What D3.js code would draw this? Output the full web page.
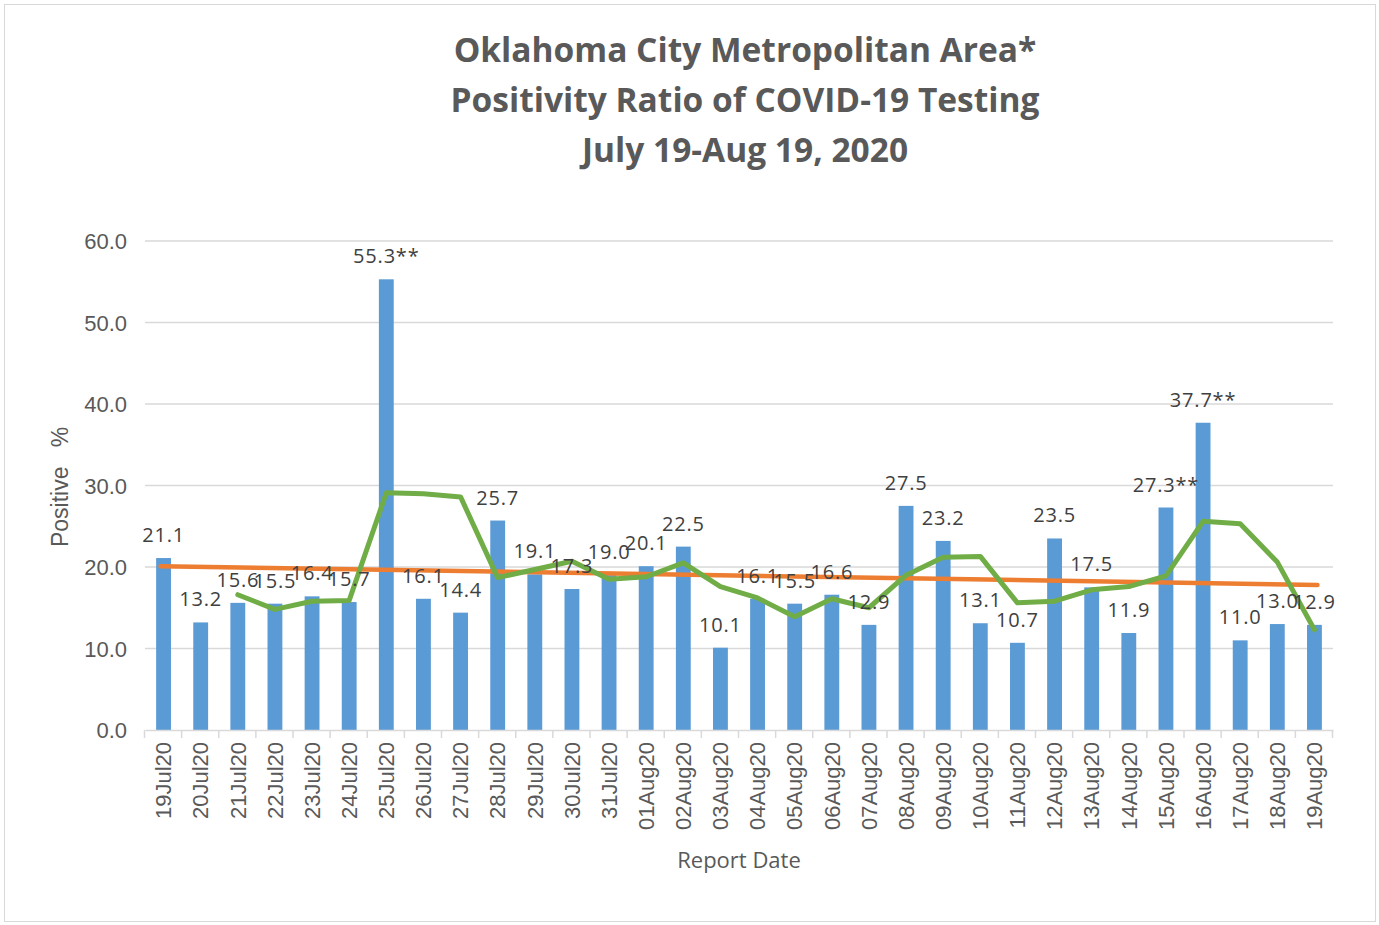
<!DOCTYPE html>
<html>
<head>
<meta charset="utf-8">
<script src="https://cdn.jsdelivr.net/npm/d3@7"></script>
<style>
  body { margin: 0; background: #fff; }
</style>
</head>
<body>
<div id="chart"></div>
<script>
const dates = ['19Jul20', '20Jul20', '21Jul20', '22Jul20', '23Jul20', '24Jul20', '25Jul20', '26Jul20',
	'27Jul20', '28Jul20', '29Jul20', '30Jul20', '31Jul20', '01Aug20', '02Aug20', '03Aug20', '04Aug20',
	'05Aug20', '06Aug20', '07Aug20', '08Aug20', '09Aug20', '10Aug20', '11Aug20', '12Aug20', '13Aug20',
	'14Aug20', '15Aug20', '16Aug20', '17Aug20', '18Aug20', '19Aug20'];

const positive = [21.1, 13.2, 15.6, 15.5, 16.4, 15.7, 55.3, 16.1, 14.4, 25.7, 19.1, 17.3, 19.0, 20.1, 22.5, 10.1,
	16.1, 15.5, 16.6, 12.9, 27.5, 23.2, 13.1, 10.7, 23.5, 17.5, 11.9, 27.3, 37.7, 11.0, 13.0, 12.9];

const labelNotes = ['', '', '', '', '', '', '**', '', '', '', '', '', '', '', '', '', '', '', '', '', '', '', '',
	'', '', '', '', '**', '**', '', '', ''];

// green moving-average line, starts at 21Jul20
const avgLine = [null, null, 16.6, 14.8, 15.8, 15.9, 29.1, 29.0, 28.6, 18.7, 19.7, 20.7, 18.5, 18.8, 20.5, 17.6,
	16.2, 13.9, 16.1, 15.0, 19.0, 21.2, 21.3, 15.6, 15.8, 17.2, 17.6, 18.9, 25.6, 25.3, 20.6, 12.3];

// orange linear trend, end values
const trendEnds = [20.1, 17.8];

const yTicks = [0, 10, 20, 30, 40, 50, 60];

const titleLines = ['Oklahoma City Metropolitan Area*', 'Positivity Ratio of COVID-19 Testing', 'July 19-Aug 19, 2020'];

const W = 1379, H = 925;
const grey = '#595959';

const svg = d3.select('#chart').append('svg').attr('width', W).attr('height', H);

svg.append('rect').attr('x', 4.5).attr('y', 4.5).attr('width', 1371).attr('height', 917)
	.attr('fill', '#fff').attr('stroke', '#d9d9d9');

const x = d3.scaleBand().domain(dates).range([145, 1333]).paddingInner(0.6).paddingOuter(0.3);
const y = d3.scaleLinear().domain([0, 60]).range([730, 241]);
const cx = (d) => x(d) + x.bandwidth() / 2;

// title
svg.append('g').selectAll('text').data(titleLines).enter().append('text')
	.attr('x', 745).attr('y', (d, i) => 62 + i * 50)
	.attr('text-anchor', 'middle')
	.style('font-family', 'Open Sans, sans-serif').style('font-weight', 'bold').style('font-size', '33.5px')
	.attr('fill', grey).text((d) => d);

// gridlines
svg.append('g').selectAll('line').data(yTicks.slice(1)).enter().append('line')
	.attr('x1', 145).attr('x2', 1333).attr('y1', (d) => y(d)).attr('y2', (d) => y(d))
	.attr('stroke', '#d9d9d9').attr('stroke-width', 1.5);

// y axis labels
svg.append('g').selectAll('text').data(yTicks).enter().append('text')
	.attr('x', 127).attr('y', (d) => y(d) + 8)
	.attr('text-anchor', 'end')
	.style('font-family', 'Liberation Sans, Arial, sans-serif').style('font-size', '22px')
	.attr('fill', grey).text((d) => d3.format('.1f')(d));

// bars
svg.append('g').selectAll('rect').data(positive).enter().append('rect')
	.attr('x', (d, i) => x(dates[i]))
	.attr('y', (d) => y(d))
	.attr('width', x.bandwidth())
	.attr('height', (d) => y(0) - y(d))
	.attr('fill', '#5b9bd5');

// x axis
const xAxis = svg.append('g').attr('transform', 'translate(0,730)')
	.call(d3.axisBottom(x).tickSize(0).tickPadding(0));
xAxis.select('.domain').attr('stroke', '#d9d9d9').attr('stroke-width', 1.5);
xAxis.selectAll('.tick text')
	.attr('transform', 'rotate(-90)')
	.attr('text-anchor', 'end')
	.attr('x', -12).attr('y', 0).attr('dy', '0.35em')
	.style('font-family', 'Liberation Sans, Arial, sans-serif').style('font-size', '22px')
	.attr('fill', grey);
const step = x.step();
svg.append('g').selectAll('line').data(dates.concat(['end'])).enter().append('line')
	.attr('x1', (d, i) => 145 + i * step - 0.5).attr('x2', (d, i) => 145 + i * step - 0.5)
	.attr('y1', 730).attr('y2', 738)
	.attr('stroke', '#d9d9d9').attr('stroke-width', 1.5);

// trend line
svg.append('line')
	.attr('x1', cx(dates[0]) - 3).attr('x2', cx(dates[dates.length - 1]) + 3)
	.attr('y1', y(trendEnds[0])).attr('y2', y(trendEnds[1]))
	.attr('stroke', '#ed7d31').attr('stroke-width', 4.5).attr('stroke-linecap', 'round');

// moving average line
const line = d3.line()
	.defined((d) => d !== null)
	.x((d, i) => cx(dates[i]))
	.y((d) => y(d));
svg.append('path').datum(avgLine).attr('d', line)
	.attr('fill', 'none').attr('stroke', '#70ad47').attr('stroke-width', 5)
	.attr('stroke-linejoin', 'round').attr('stroke-linecap', 'round');

// data labels
svg.append('g').selectAll('text').data(positive).enter().append('text')
	.attr('x', (d, i) => cx(dates[i]))
	.attr('y', (d) => y(d) - 16)
	.attr('text-anchor', 'middle')
	.style('font-family', 'Open Sans, sans-serif').style('font-size', '20px')
	.style('letter-spacing', '0.8px')
	.attr('fill', '#404040')
	.text((d, i) => d.toFixed(1) + labelNotes[i]);

// axis titles
svg.append('text').attr('x', 739).attr('y', 868).attr('text-anchor', 'middle')
	.style('font-family', 'Open Sans, sans-serif').style('font-size', '22px')
	.attr('fill', grey).text('Report Date');

svg.append('text').attr('transform', 'translate(68,487) rotate(-90)').attr('text-anchor', 'middle')
	.style('font-family', 'Liberation Sans, Arial, sans-serif').style('font-size', '23px')
	.attr('fill', grey).attr('xml:space', 'preserve').text('Positive   %');
</script>
</body>
</html>
